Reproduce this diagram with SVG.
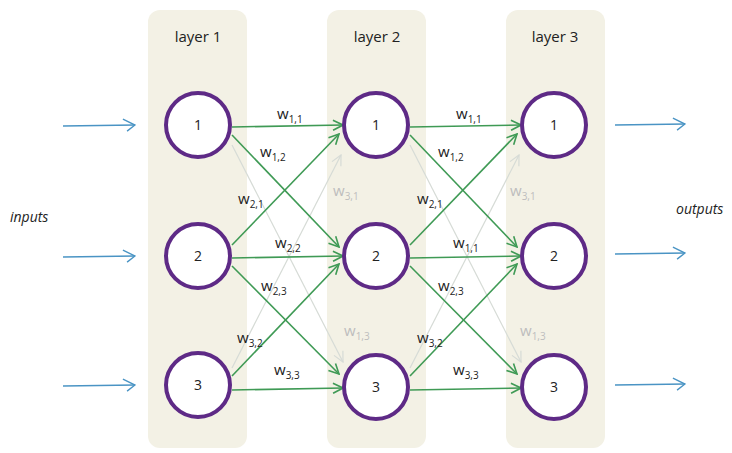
<svg xmlns="http://www.w3.org/2000/svg" width="732" height="453" viewBox="0 0 732 453">
<defs>
<style>
.panel{fill:#f3f1e5}
.node circle{fill:#ffffff;stroke:#5e2a86;stroke-width:4}
.node text{font-family:"Open Sans","DejaVu Sans",sans-serif;font-size:14px;fill:#222;text-anchor:middle}
.title{font-family:"Open Sans","DejaVu Sans",sans-serif;font-size:15px;fill:#222;text-anchor:middle}
.io{font-family:"Open Sans","DejaVu Sans",sans-serif;font-style:italic;font-size:14px;fill:#222}
.g{stroke:#3f9a55;stroke-width:1.6;fill:none;marker-end:url(#ag)}
.f{stroke:#d6dbd6;stroke-width:1.2;fill:none;marker-end:url(#af)}
.b{stroke:#4a94c4;stroke-width:1.4;fill:none;marker-end:url(#ab)}
.w{font-family:"Open Sans","DejaVu Sans",sans-serif;font-size:15px;fill:#222}
.w tspan{font-size:10px}
.wf{font-family:"Open Sans","DejaVu Sans",sans-serif;font-size:15px;fill:#bdbdbd}
.wf tspan{font-size:10px}
</style>
<marker id="ag" viewBox="0 0 12 12" refX="11" refY="6" markerWidth="12" markerHeight="12" markerUnits="userSpaceOnUse" orient="auto"><path d="M1,1 L11,6 L1,11" fill="none" stroke="#3f9a55" stroke-width="1.6"/></marker>
<marker id="af" viewBox="0 0 12 12" refX="11" refY="6" markerWidth="12" markerHeight="12" markerUnits="userSpaceOnUse" orient="auto"><path d="M1,1 L11,6 L1,11" fill="none" stroke="#d6dbd6" stroke-width="1.2"/></marker>
<marker id="ab" viewBox="0 0 14 14" refX="13" refY="7" markerWidth="14" markerHeight="14" markerUnits="userSpaceOnUse" orient="auto"><path d="M1,1 L13,7 L5,13" fill="none" stroke="#4a94c4" stroke-width="1.4"/></marker>
</defs>
<rect width="732" height="453" fill="#ffffff"/>
<g id="panels">
<rect class="panel" x="148" y="10" width="99" height="438" rx="12"/>
<rect class="panel" x="327" y="10" width="99" height="438" rx="12"/>
<rect class="panel" x="506" y="10" width="99" height="438" rx="12"/>
<text class="title" x="198" y="42">layer 1</text>
<text class="title" x="377" y="42">layer 2</text>
<text class="title" x="555" y="42">layer 3</text>
</g>
<g id="connectors">
<line class="b" x1="63" y1="126" x2="135" y2="125"/>
<line class="b" x1="63" y1="257" x2="135" y2="256"/>
<line class="b" x1="63" y1="386" x2="135" y2="385"/>
<line class="b" x1="615" y1="125" x2="685" y2="124"/>
<line class="b" x1="615" y1="254" x2="685" y2="253"/>
<line class="b" x1="615" y1="385" x2="685" y2="384"/>
<line class="f" x1="232" y1="145" x2="343" y2="362"/>
<line class="f" x1="232" y1="368" x2="341" y2="155"/>
<line class="g" x1="232" y1="127" x2="343" y2="125"/>
<line class="g" x1="232" y1="135" x2="339" y2="247"/>
<line class="g" x1="232" y1="245" x2="339" y2="134"/>
<line class="g" x1="232" y1="258" x2="343" y2="256"/>
<line class="g" x1="232" y1="266" x2="339" y2="374"/>
<line class="g" x1="232" y1="376" x2="339" y2="264"/>
<line class="g" x1="232" y1="390" x2="343" y2="388"/>
<line class="f" x1="410" y1="145" x2="521" y2="362"/>
<line class="f" x1="410" y1="368" x2="519" y2="155"/>
<line class="g" x1="410" y1="127" x2="521" y2="125"/>
<line class="g" x1="410" y1="135" x2="517" y2="247"/>
<line class="g" x1="410" y1="245" x2="517" y2="134"/>
<line class="g" x1="410" y1="258" x2="521" y2="256"/>
<line class="g" x1="410" y1="266" x2="517" y2="374"/>
<line class="g" x1="410" y1="376" x2="517" y2="264"/>
<line class="g" x1="410" y1="390" x2="521" y2="388"/>
</g>
<g id="labels">
<text class="io" x="10" y="222">inputs</text>
<text class="io" x="676" y="214">outputs</text>
<text class="w" x="277" y="119">w<tspan dy="4">1,1</tspan></text>
<text class="w" x="260" y="157">w<tspan dy="4">1,2</tspan></text>
<text class="w" x="238" y="204">w<tspan dy="4">2,1</tspan></text>
<text class="wf" x="333" y="196">w<tspan dy="4">3,1</tspan></text>
<text class="w" x="275" y="248">w<tspan dy="4">2,2</tspan></text>
<text class="w" x="261" y="291">w<tspan dy="4">2,3</tspan></text>
<text class="w" x="237" y="343">w<tspan dy="4">3,2</tspan></text>
<text class="wf" x="344" y="336">w<tspan dy="4">1,3</tspan></text>
<text class="w" x="274" y="375">w<tspan dy="4">3,3</tspan></text>
<text class="w" x="456" y="119">w<tspan dy="4">1,1</tspan></text>
<text class="w" x="438" y="157">w<tspan dy="4">1,2</tspan></text>
<text class="w" x="417" y="204">w<tspan dy="4">2,1</tspan></text>
<text class="wf" x="510" y="196">w<tspan dy="4">3,1</tspan></text>
<text class="w" x="453" y="248">w<tspan dy="4">1,1</tspan></text>
<text class="w" x="438" y="291">w<tspan dy="4">2,3</tspan></text>
<text class="w" x="417" y="343">w<tspan dy="4">3,2</tspan></text>
<text class="wf" x="520" y="336">w<tspan dy="4">1,3</tspan></text>
<text class="w" x="453" y="375">w<tspan dy="4">3,3</tspan></text>
</g>
<g id="n1-1" class="node"><circle cx="198" cy="125" r="32"/><text x="198" y="130">1</text></g>
<g id="n1-2" class="node"><circle cx="198" cy="256" r="32"/><text x="198" y="261">2</text></g>
<g id="n1-3" class="node"><circle cx="198" cy="385" r="32"/><text x="198" y="390">3</text></g>
<g id="n2-1" class="node"><circle cx="376" cy="125" r="32"/><text x="376" y="130">1</text></g>
<g id="n2-2" class="node"><circle cx="376" cy="256" r="32"/><text x="376" y="261">2</text></g>
<g id="n2-3" class="node"><circle cx="376" cy="387" r="32"/><text x="376" y="392">3</text></g>
<g id="n3-1" class="node"><circle cx="554" cy="125" r="32"/><text x="554" y="130">1</text></g>
<g id="n3-2" class="node"><circle cx="554" cy="256" r="32"/><text x="554" y="261">2</text></g>
<g id="n3-3" class="node"><circle cx="554" cy="387" r="32"/><text x="554" y="392">3</text></g>
</svg>
